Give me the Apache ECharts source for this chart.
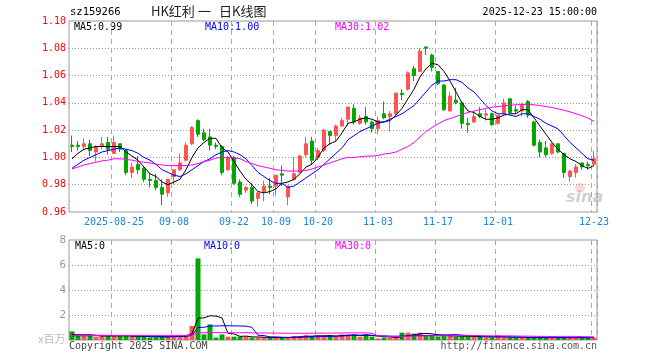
<!DOCTYPE html>
<html><head><meta charset="utf-8">
<script src="https://cdn.jsdelivr.net/npm/echarts@6/dist/echarts.min.js"></script>
<style>html,body{margin:0;padding:0;background:#fff}#c{width:660px;height:360px}</style>
</head><body><div id="c"></div>
<script>
const dates = ["2025-08-14","2025-08-15","2025-08-18","2025-08-19","2025-08-20","2025-08-21","2025-08-22","2025-08-25","2025-08-26","2025-08-27","2025-08-28","2025-08-29",
"2025-09-01","2025-09-02","2025-09-03","2025-09-04","2025-09-05","2025-09-08","2025-09-09","2025-09-10","2025-09-11","2025-09-12","2025-09-15","2025-09-16","2025-09-17","2025-09-18","2025-09-19","2025-09-22","2025-09-23","2025-09-24","2025-09-25","2025-09-26","2025-09-29","2025-09-30",
"2025-10-09","2025-10-10","2025-10-13","2025-10-14","2025-10-15","2025-10-16","2025-10-17","2025-10-20","2025-10-21","2025-10-22","2025-10-23","2025-10-24","2025-10-27","2025-10-28","2025-10-29","2025-10-30","2025-10-31",
"2025-11-03","2025-11-04","2025-11-05","2025-11-06","2025-11-07","2025-11-10","2025-11-11","2025-11-12","2025-11-13","2025-11-14","2025-11-17","2025-11-18","2025-11-19","2025-11-20","2025-11-21","2025-11-24","2025-11-25","2025-11-26","2025-11-27","2025-11-28",
"2025-12-01","2025-12-02","2025-12-03","2025-12-04","2025-12-05","2025-12-08","2025-12-09","2025-12-10","2025-12-11","2025-12-12","2025-12-15","2025-12-16","2025-12-17","2025-12-18","2025-12-19","2025-12-22","2025-12-23"];

const tickDates = ["2025-08-25","2025-09-08","2025-09-22","2025-10-09","2025-10-20","2025-11-03","2025-11-17","2025-12-01","2025-12-23"];

const openP = [1.009,1.009,1.008,1.010,1.004,1.008,1.011,1.003,1.010,1.005,
0.989,0.995,0.992,0.984,0.983,0.978,0.974,0.986,0.991,0.998,
1.010,1.027,1.018,1.015,1.009,1.008,0.991,1.000,0.982,0.976,
0.978,0.970,0.975,0.979,0.979,0.988,0.971,0.984,0.989,1.002,
1.012,1.000,1.005,1.019,1.016,1.023,1.028,1.036,1.025,1.030,
1.026,1.021,1.032,1.030,1.032,1.047,1.050,1.065,1.063,1.081,
1.075,1.063,1.053,1.034,1.042,1.040,1.025,1.026,1.032,1.031,
1.032,1.025,1.032,1.043,1.035,1.034,1.041,1.026,1.011,1.007,
1.003,1.010,1.003,0.986,0.989,0.996,0.995,0.995];

const closeP = [1.008,1.008,1.010,1.005,1.008,1.010,1.006,1.011,1.006,0.989,
0.993,0.991,0.984,0.983,0.978,0.973,0.984,0.991,0.996,1.009,
1.022,1.017,1.013,1.009,1.008,0.989,1.000,0.981,0.973,0.978,
0.968,0.974,0.979,0.978,0.987,0.987,0.979,0.988,1.001,1.010,
0.998,1.005,1.020,1.016,1.023,1.027,1.037,1.026,1.029,1.026,
1.021,1.027,1.029,1.032,1.047,1.046,1.062,1.060,1.078,1.080,
1.066,1.054,1.035,1.045,1.040,1.025,1.024,1.030,1.030,1.032,
1.024,1.031,1.040,1.033,1.034,1.039,1.031,1.009,1.004,1.002,
1.010,1.004,0.989,0.990,0.993,0.993,0.994,0.999];

const lowP = [1.004,1.005,1.006,1.001,0.997,1.006,1.002,1.003,1.004,0.987,
0.985,0.988,0.982,0.978,0.976,0.965,0.971,0.980,0.990,0.997,
1.009,1.015,1.012,1.005,1.006,0.987,0.990,0.980,0.971,0.974,
0.966,0.964,0.968,0.973,0.972,0.979,0.965,0.983,0.989,1.000,
0.995,0.998,1.004,1.009,1.012,1.023,1.023,1.024,1.024,1.024,
1.018,1.017,1.028,1.019,1.031,1.042,1.049,1.056,1.063,1.075,
1.063,1.053,1.034,1.034,1.039,1.021,1.018,1.025,1.029,1.027,
1.023,1.024,1.032,1.032,1.032,1.030,1.029,1.008,1.000,1.000,
1.002,1.003,0.985,0.982,0.985,0.991,0.991,0.994];

const highP = [1.016,1.012,1.014,1.013,1.009,1.015,1.015,1.016,1.010,1.006,
0.996,1.001,0.993,0.989,0.988,0.984,0.984,0.991,1.003,1.011,
1.023,1.028,1.021,1.021,1.011,1.009,1.001,1.001,0.984,0.979,
0.981,0.975,0.983,0.985,0.987,0.994,0.979,1.000,1.002,1.015,
1.015,1.007,1.021,1.019,1.024,1.029,1.037,1.039,1.031,1.037,
1.027,1.030,1.041,1.034,1.048,1.050,1.063,1.067,1.080,1.081,
1.076,1.063,1.054,1.048,1.051,1.041,1.029,1.034,1.037,1.035,
1.033,1.031,1.043,1.043,1.038,1.040,1.042,1.027,1.013,1.012,
1.011,1.010,1.003,0.991,0.995,0.996,0.997,1.005];

const ma5 = [0.999,1.003,1.006,1.007,1.008,1.008,1.008,1.008,1.008,1.004,
1.001,0.998,0.993,0.988,0.986,0.982,0.980,0.982,0.984,0.991,
1.000,1.007,1.011,1.014,1.014,1.007,1.004,0.997,0.990,0.984,
0.980,0.975,0.974,0.975,0.977,0.981,0.982,0.984,0.988,0.993,
0.995,1.000,1.007,1.010,1.012,1.018,1.025,1.026,1.028,1.029,
1.028,1.026,1.026,1.027,1.031,1.036,1.043,1.050,1.059,1.065,
1.069,1.068,1.063,1.056,1.048,1.040,1.034,1.033,1.030,1.028,
1.028,1.029,1.031,1.032,1.032,1.035,1.035,1.029,1.023,1.017,
1.011,1.006,1.002,0.999,0.997,0.994,0.992,0.994];

const ma10 = [0.992,0.995,0.998,1.000,1.002,1.004,1.005,1.006,1.007,1.006,
1.005,1.003,1.000,0.998,0.995,0.991,0.989,0.987,0.986,0.988,
0.991,0.994,0.997,0.999,1.002,1.004,1.005,1.004,1.002,0.999,
0.994,0.989,0.986,0.983,0.981,0.981,0.978,0.979,0.982,0.985,
0.988,0.991,0.995,0.999,1.003,1.007,1.013,1.016,1.019,1.021,
1.023,1.025,1.026,1.028,1.030,1.032,1.035,1.038,1.043,1.048,
1.053,1.056,1.056,1.057,1.057,1.055,1.051,1.048,1.043,1.038,
1.034,1.032,1.032,1.031,1.030,1.032,1.032,1.030,1.028,1.025,
1.023,1.021,1.016,1.011,1.007,1.003,0.999,0.998];

const ma30 = [0.9915,0.993,0.9945,0.9955,0.9965,0.9975,0.998,0.999,0.999,0.9985,
0.998,0.997,0.9965,0.996,0.995,0.9945,0.994,0.994,0.994,0.994,
0.9945,0.9955,0.997,0.998,0.9995,1.000,1.000,0.9995,0.999,0.997,
0.9955,0.994,0.993,0.992,0.991,0.9905,0.990,0.990,0.990,0.9905,
0.9915,0.993,0.9945,0.996,0.9975,0.999,1.000,1.000,1.0005,1.001,
1.001,1.0015,1.0025,1.003,1.004,1.006,1.008,1.011,1.015,1.019,
1.022,1.0245,1.027,1.0285,1.030,1.0315,1.033,1.034,1.035,1.036,
1.0368,1.0373,1.0378,1.0383,1.0386,1.0388,1.0388,1.0386,1.038,1.0373,
1.0366,1.0356,1.0346,1.0334,1.032,1.0305,1.0288,1.0264];

const volume = [0.69,0.32,0.32,0.32,0.24,0.43,0.32,0.32,0.32,0.32,
0.27,0.27,0.27,0.21,0.21,0.27,0.27,0.37,0.37,0.37,
1.12,6.53,0.45,1.25,0.19,0.45,0.27,0.27,0.27,0.27,
0.19,0.19,0.19,0.19,0.19,0.19,0.19,0.32,0.32,0.40,
0.32,0.32,0.32,0.37,0.27,0.45,0.45,0.45,0.27,0.45,
0.27,0.13,0.19,0.19,0.19,0.59,0.59,0.51,0.59,0.37,
0.37,0.27,0.32,0.37,0.27,0.27,0.27,0.27,0.27,0.19,
0.19,0.37,0.19,0.19,0.19,0.19,0.19,0.19,0.19,0.19,
0.19,0.19,0.19,0.19,0.19,0.19,0.19,0.19];

const volMa5 = [0.43,0.42,0.42,0.42,0.38,0.33,0.33,0.33,0.33,0.34,
0.31,0.30,0.29,0.27,0.25,0.25,0.25,0.27,0.30,0.33,
0.50,1.75,1.77,1.94,1.91,1.77,0.52,0.49,0.29,0.31,
0.25,0.24,0.22,0.21,0.19,0.19,0.19,0.22,0.24,0.28,
0.31,0.34,0.34,0.35,0.32,0.35,0.37,0.40,0.38,0.41,
0.38,0.31,0.26,0.25,0.19,0.26,0.35,0.41,0.49,0.53,
0.49,0.42,0.38,0.34,0.32,0.30,0.30,0.29,0.27,0.25,
0.24,0.26,0.24,0.23,0.23,0.23,0.19,0.19,0.19,0.19,
0.19,0.19,0.19,0.19,0.19,0.19,0.19,0.19];

const volMa10 = [0.34,0.34,0.34,0.34,0.34,0.34,0.34,0.35,0.35,0.36,
0.32,0.31,0.31,0.30,0.29,0.28,0.27,0.28,0.28,0.29,
0.37,1.00,1.02,1.12,1.12,1.14,1.14,1.13,1.12,1.11,
1.01,0.38,0.35,0.25,0.25,0.22,0.21,0.22,0.22,0.24,
0.25,0.26,0.28,0.29,0.30,0.33,0.35,0.37,0.36,0.37,
0.36,0.34,0.33,0.31,0.30,0.32,0.33,0.34,0.37,0.36,
0.37,0.39,0.40,0.42,0.43,0.39,0.36,0.34,0.31,0.29,
0.27,0.28,0.27,0.25,0.24,0.23,0.22,0.22,0.21,0.21,
0.21,0.19,0.19,0.19,0.19,0.19,0.19,0.19];

const volMa30 = [0.37,0.37,0.37,0.37,0.37,0.37,0.37,0.37,0.37,0.37,
0.37,0.37,0.37,0.37,0.37,0.37,0.37,0.37,0.37,0.37,
0.40,0.58,0.58,0.60,0.59,0.59,0.58,0.58,0.58,0.59,
0.57,0.56,0.56,0.56,0.55,0.55,0.54,0.54,0.54,0.54,
0.55,0.55,0.55,0.55,0.56,0.56,0.57,0.57,0.57,0.57,
0.54,0.33,0.32,0.29,0.29,0.29,0.30,0.31,0.32,0.32,
0.33,0.33,0.34,0.34,0.34,0.35,0.35,0.35,0.35,0.34,
0.33,0.34,0.33,0.33,0.32,0.31,0.31,0.30,0.29,0.29,
0.28,0.29,0.29,0.29,0.29,0.27,0.26,0.25];

const UP = '#ff5454', DOWN = '#00a800';
const MONO = 'DejaVu Sans Mono';
const GL = 69, GW = 528;

const kData = dates.map((d, i) => [openP[i], closeP[i], lowP[i], highP[i]]);
const volData = volume.map((v, i) => ({ value: v, itemStyle: { color: closeP[i] > openP[i] ? UP : DOWN } }));
const isTick = (idx, val) => tickDates.indexOf(val) >= 0;

const chart = echarts.init(document.getElementById('c'), null, { renderer: 'canvas' });
const txt = (x, y, s, color, size) => ({
  type: 'text', left: x, top: y, silent: true,
  style: { text: s, fill: color, font: (size || 10) + 'px "' + MONO + '"' }
});
const cjk = (x, s) => ({ type: 'text', left: x, top: 5, silent: true,
  style: { text: s, fill: '#222', font: '13px "Noto Sans CJK SC"' } });

chart.setOption({
  animation: false,
  backgroundColor: '#fff',
  grid: [
    { left: GL, width: GW, top: 21, height: 191, show: true, borderColor: '#999', borderWidth: 1 },
    { left: GL, width: GW, top: 240, height: 100, show: true, borderColor: '#999', borderWidth: 1 }
  ],
  xAxis: [
    { type: 'category', data: dates, gridIndex: 0, boundaryGap: true,
      axisLine: { show: false }, axisTick: { show: false },
      axisLabel: { interval: isTick, color: '#1a86e0', fontFamily: MONO, fontSize: 10, margin: 5,
        formatter: v => v === tickDates[0] ? v : v.slice(5) },
      splitLine: { show: true, interval: isTick, lineStyle: { color: '#aaa', type: [5, 4], width: 1 } } },
    { type: 'category', data: dates, gridIndex: 1, boundaryGap: true,
      axisLine: { show: false }, axisTick: { show: false }, axisLabel: { show: false },
      splitLine: { show: true, interval: isTick, lineStyle: { color: '#aaa', type: [5, 4], width: 1 } } }
  ],
  yAxis: [
    { type: 'value', gridIndex: 0, min: 0.96, max: 1.10, interval: 0.02,
      axisLine: { show: false }, axisTick: { show: false },
      axisLabel: { color: '#ff0000', fontFamily: MONO, fontSize: 10, margin: 3, formatter: v => v.toFixed(2) },
      splitLine: { show: true, showMinLine: false, showMaxLine: false, lineStyle: { color: '#999', type: [1, 2] } } },
    { type: 'value', gridIndex: 1, min: 0, max: 8, interval: 2,
      axisLine: { show: false }, axisTick: { show: false },
      axisLabel: { color: '#999', fontFamily: MONO, fontSize: 11, margin: 3, formatter: v => v === 0 ? '' : String(v) },
      splitLine: { show: true, showMinLine: false, showMaxLine: false, lineStyle: { color: '#999', type: [1, 2] } } }
  ],
  series: [
    { type: 'candlestick', xAxisIndex: 0, yAxisIndex: 0, data: kData, barWidth: 4,
      itemStyle: { color: UP, color0: DOWN, borderColor: UP, borderColor0: DOWN, borderWidth: 1 } },
    { type: 'line', xAxisIndex: 0, yAxisIndex: 0, data: ma5, symbol: 'none', z: 5, lineStyle: { color: '#000', width: 1 } },
    { type: 'line', xAxisIndex: 0, yAxisIndex: 0, data: ma10, symbol: 'none', z: 5, lineStyle: { color: '#0000ff', width: 1 } },
    { type: 'line', xAxisIndex: 0, yAxisIndex: 0, data: ma30, symbol: 'none', z: 5, lineStyle: { color: '#ff00ff', width: 1 } },
    { type: 'bar', xAxisIndex: 1, yAxisIndex: 1, data: volData, barWidth: 5 },
    { type: 'line', xAxisIndex: 1, yAxisIndex: 1, data: volMa5, symbol: 'none', z: 5, lineStyle: { color: '#000', width: 1 } },
    { type: 'line', xAxisIndex: 1, yAxisIndex: 1, data: volMa10, symbol: 'none', z: 5, lineStyle: { color: '#0000ff', width: 1 } },
    { type: 'line', xAxisIndex: 1, yAxisIndex: 1, data: volMa30, symbol: 'none', z: 5, lineStyle: { color: '#ff00ff', width: 1 } }
  ],
  graphic: [
    txt(70, 7, 'sz159266', '#000', 10.5),
    cjk(151, 'HK红利'),
    cjk(198, '一'),
    cjk(219, '日K线图'),
    { type: 'text', right: 63, top: 7, silent: true, style: { text: '2025-12-23 15:00:00', fill: '#000', font: '10px "' + MONO + '"' } },
    txt(74, 22, 'MA5:0.99', '#000'),
    txt(205, 22, 'MA10:1.00', '#0000ff'),
    txt(335, 22, 'MA30:1.02', '#ff00ff'),
    txt(75, 241, 'MA5:0', '#000'),
    txt(204, 241, 'MA10:0', '#0000ff'),
    txt(335, 241, 'MA30:0', '#ff00ff'),
    { type: 'text', left: 38, top: 333, silent: true, style: { text: 'x百万', fill: '#bbb', font: '11px "Noto Sans CJK SC"' } },
    txt(69, 341, 'Copyright 2025 SINA.COM', '#444'),
    { type: 'text', right: 63, top: 341, silent: true, style: { text: 'http://finance.sina.com.cn', fill: '#555', font: '10px "' + MONO + '"' } },
    { type: 'circle', silent: true, shape: { cx: 580, cy: 188, r: 5 }, style: { fill: 'rgba(240,140,140,0.35)' } },
    { type: 'text', left: 566, top: 190, silent: true, style: { text: 'sina', fill: 'rgba(170,170,170,0.55)', font: 'italic bold 16px "DejaVu Sans"' } }
  ]
});
</script>
</body></html>
